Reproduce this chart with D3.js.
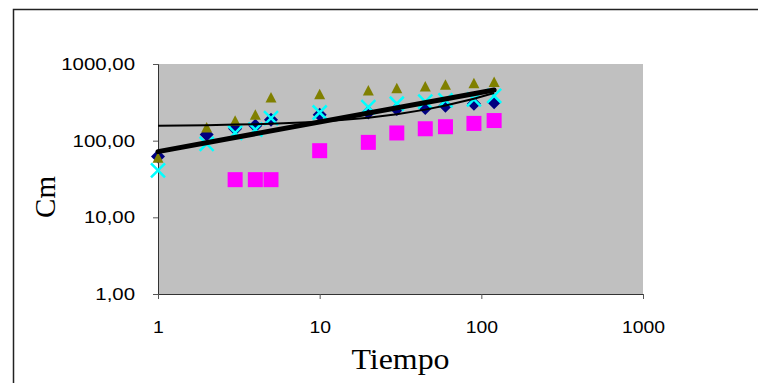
<!DOCTYPE html>
<html>
<head>
<meta charset="utf-8">
<script src="https://cdn.jsdelivr.net/npm/d3@7"></script>
<style>
  body { margin: 0; background: #fff; overflow: hidden; }
  svg { display: block; }
</style>
</head>
<body>
<svg id="grafico"></svg>
<script>
// datos (Cm vs Tiempo, escala log-log)
var tiempo = [1, 2, 3, 4, 5, 10, 20, 30, 45, 60, 90, 120];
var serieRombo = [62, 120, 143, 157, 187, 218, 233, 258, 266, 285, 303, 318];
var serieCuadrado = [null, null, 31, 31, 31, 74, 95, 126, 143, 152, 168, 183];
var serieTriangulo = [60, 149, 182, 218, 365, 404, 450, 483, 507, 538, 561, 584];
var serieCruz = [41, 91, 126, 139, 197, 233, 274, 303, 324, 335, 345, 384];

// lineas de tendencia
var tendPotX = [1, 120];
var tendPotY = [72, 459];
var tendLinY = [157, 159, 162, 164, 166, 177, 199, 221, 254, 287, 353, 419];

var ticksX = [1, 10, 100, 1000];
var ticksY = [1, 10, 100, 1000];

var W = 758, H = 383;

var svg = d3.select("#grafico")
    .attr("width", W)
    .attr("height", H);

// marco del area del grafico (sigue fuera de la imagen a la derecha y abajo)
svg.append("path")
    .attr("d", "M13.5," + H + "V9.5H" + W)
    .attr("fill", "none")
    .attr("stroke", "#222")
    .attr("stroke-width", 1.5);

var x = d3.scaleLog().domain([1, 1000]).range([158, 643]);
var y = d3.scaleLog().domain([1, 1000]).range([294, 64]);

// fondo gris del area de trazado
svg.append("rect")
    .attr("x", x(1))
    .attr("y", y(1000))
    .attr("width", x(1000) - x(1))
    .attr("height", y(1) - y(1000))
    .attr("fill", "#c0c0c0");

var loc = d3.formatLocale({decimal: ",", thousands: "", grouping: [3], currency: ["", ""]});
var fmtY = loc.format(".2f");

// estira el texto horizontalmente (la imagen original esta ensanchada)
function estirar(sel, f) {
    sel.each(function() {
        var n = this.getComputedTextLength();
        d3.select(this)
            .attr("textLength", n * f)
            .attr("lengthAdjust", "spacingAndGlyphs");
    });
}

var ejeY = svg.append("g")
    .attr("transform", "translate(" + x(1) + ",0)")
    .call(d3.axisLeft(y).tickValues(ticksY).tickSize(5).tickPadding(18).tickFormat(fmtY));

var ejeX = svg.append("g")
    .attr("transform", "translate(0," + y(1) + ")")
    .call(d3.axisBottom(x).tickValues(ticksX).tickSize(5).tickPadding(22).tickFormat(d3.format("d")));

[ejeX, ejeY].forEach(function(g) {
    g.attr("font-family", "Liberation Sans, Arial, sans-serif").attr("font-size", 17);
    g.select(".domain").attr("stroke", "#333");
    g.selectAll(".tick line").attr("stroke", "#555");
    g.selectAll("text").attr("fill", "#000");
});
estirar(ejeY.selectAll("text"), 1.2);
estirar(ejeX.selectAll("text"), 1.14);

// titulos de los ejes
var tx = svg.append("text")
    .attr("x", (x(1) + x(1000)) / 2)
    .attr("y", 369)
    .attr("text-anchor", "middle")
    .attr("font-family", "Liberation Serif, Times New Roman, serif")
    .attr("font-size", 29)
    .text("Tiempo");
estirar(tx, 1.1);

svg.append("text")
    .attr("transform", "translate(55,197) rotate(-90)")
    .attr("text-anchor", "middle")
    .attr("font-family", "Liberation Serif, Times New Roman, serif")
    .attr("font-size", 29)
    .text("Cm");

function puntos(vals) {
    return tiempo.map(function(t, i) { return {t: t, v: vals[i]}; })
        .filter(function(d) { return d.v != null; });
}

// serie 1: rombos azul marino
svg.append("g").selectAll("path")
    .data(puntos(serieRombo))
    .enter().append("path")
    .attr("transform", function(d) { return "translate(" + x(d.t) + "," + y(d.v) + ")"; })
    .attr("d", "M0,-7L7,0L0,7L-7,0Z")
    .attr("fill", "#000080");

// serie 2: cuadrados magenta
svg.append("g").selectAll("rect")
    .data(puntos(serieCuadrado))
    .enter().append("rect")
    .attr("x", function(d) { return x(d.t) - 7.5; })
    .attr("y", function(d) { return y(d.v) - 7.5; })
    .attr("width", 15)
    .attr("height", 15)
    .attr("fill", "#ff00ff");

// serie 3: triangulos oliva
svg.append("g").selectAll("path")
    .data(puntos(serieTriangulo))
    .enter().append("path")
    .attr("transform", function(d) { return "translate(" + x(d.t) + "," + y(d.v) + ")"; })
    .attr("d", "M0,-5.5L5.5,5L-5.5,5Z")
    .attr("fill", "#808000");

// serie 4: cruces cian
svg.append("g").selectAll("path")
    .data(puntos(serieCruz))
    .enter().append("path")
    .attr("transform", function(d) { return "translate(" + x(d.t) + "," + y(d.v) + ")"; })
    .attr("d", "M-7,-7L7,7M-7,7L7,-7")
    .attr("stroke", "#00ffff")
    .attr("stroke-width", 2.5)
    .attr("fill", "none");

// tendencia lineal (fina)
var linea = d3.line()
    .x(function(d) { return x(d.t); })
    .y(function(d) { return y(d.v); });

svg.append("path")
    .datum(puntos(tendLinY))
    .attr("d", linea)
    .attr("fill", "none")
    .attr("stroke", "#000")
    .attr("stroke-width", 2);

// tendencia potencial (gruesa)
svg.append("path")
    .datum(tendPotX.map(function(t, i) { return {t: t, v: tendPotY[i]}; }))
    .attr("d", linea)
    .attr("fill", "none")
    .attr("stroke", "#000")
    .attr("stroke-width", 5)
    .attr("stroke-linecap", "round");
</script>
</body>
</html>
